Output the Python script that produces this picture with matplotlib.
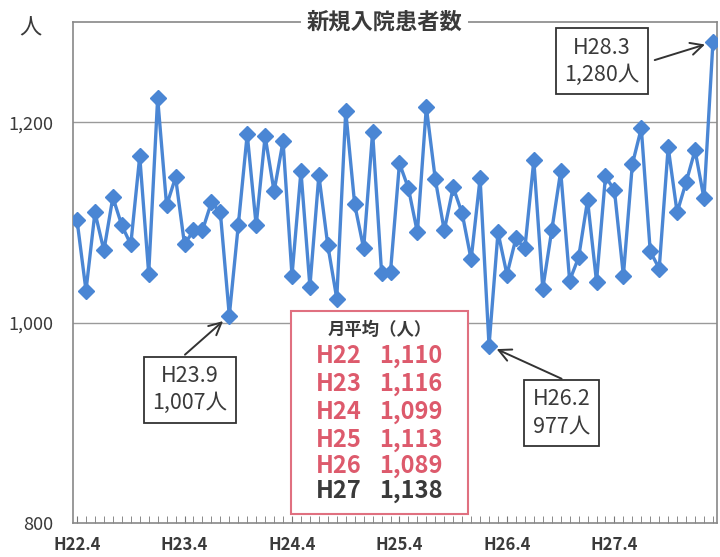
import numpy as np
import matplotlib.pyplot as plt
from matplotlib.patches import Rectangle

plt.rcParams['font.family'] = ['Noto Sans CJK JP', 'DejaVu Sans']

# monthly new inpatients, H22.4 .. H28.3
patients = [1102, 1032, 1110, 1072, 1125, 1097, 1078, 1166, 1049, 1224, 1117, 1145,
            1078, 1092, 1092, 1120, 1110, 1007, 1097, 1188, 1097, 1186, 1131, 1181,
            1047, 1151, 1036, 1147, 1077, 1024, 1211, 1118, 1074, 1190, 1050, 1051,
            1159, 1134, 1090, 1215, 1143, 1092, 1135, 1109, 1063, 1144, 977, 1090,
            1048, 1084, 1074, 1162, 1034, 1092, 1151, 1042, 1065, 1122, 1041, 1146,
            1132, 1047, 1158, 1194, 1071, 1054, 1175, 1110, 1140, 1172, 1124, 1280]
tick_labels = ['H22.4', 'H23.4', 'H24.4', 'H25.4', 'H26.4', 'H27.4']
years = ['H22', 'H23', 'H24', 'H25', 'H26', 'H27']
averages = ['1,110', '1,116', '1,099', '1,113', '1,089', '1,138']

blue = '#4A86D4'
red = '#DD5A6C'
dark = '#3a3a3a'

x = np.arange(len(patients))

fig = plt.figure(figsize=(7.2, 5.57), dpi=100)
ax = fig.add_axes([0.1014, 0.061, 0.8944, 0.8995])

ax.plot(x, patients, color=blue, lw=2.4, marker='D', ms=8, zorder=3)

ax.set_xlim(-0.45, len(patients) - 0.55)
ax.set_ylim(800, 1300)
ax.set_yticks([800, 1000, 1200])
ax.set_yticklabels(['800', '1,000', '1,200'], fontsize=13, color=dark)
ax.set_xticks(x[::12])
ax.set_xticklabels(tick_labels, fontsize=12, fontweight='bold', color=dark)
ax.set_xticks(x, minor=True)
ax.tick_params(axis='x', which='both', direction='in', length=5, color='#777', pad=9)
ax.tick_params(axis='y', length=0, pad=14)
for y in [1000, 1200]:
    ax.axhline(y, color='#9a9a9a', lw=1, zorder=1)
for s in ax.spines.values():
    s.set_color('#888')
    s.set_linewidth(1.2)

ax.text(0.484, 1.0, '新規入院患者数', transform=ax.transAxes, ha='center', va='center',
        fontsize=16, fontweight='bold', color=dark,
        bbox=dict(facecolor='white', edgecolor='none', pad=4))
fig.text(0.042, 0.95, '人', fontsize=16, color=dark, ha='center', va='center')

# callouts
callouts = [
    ('H23.9\n1,007人', (12.6, 933), (12.05, 968), 17),
    ('H26.2\n977人', (54.1, 910), (54.1, 944), 46),
    ('H28.3\n1,280人', (58.6, 1261), (64.5, 1262), 71),
]
for txt, pos, start, idx in callouts:
    ax.text(pos[0], pos[1], txt, ha='center', va='center', fontsize=15.5, color=dark,
            linespacing=1.3,
            bbox=dict(boxstyle='square,pad=0.4', facecolor='white', edgecolor='#333', lw=1.3),
            zorder=4)
    ax.annotate('', xy=(idx, patients[idx]), xytext=start,
                arrowprops=dict(arrowstyle='->', color='#333', lw=1.4, shrinkA=0, shrinkB=6,
                                mutation_scale=22), zorder=4)

# yearly average box
ax.add_patch(Rectangle((23.88, 809), 19.75, 203, facecolor='white', edgecolor='#E07080',
                       lw=1.5, zorder=4))
ax.text(33.8, 993, '月平均（人）', ha='center', va='center', fontsize=12.5,
        fontweight='bold', color=dark, zorder=5)
row_y = [967, 939, 911, 883, 857, 832]
for i, (yr, av) in enumerate(zip(years, averages)):
    c = dark if i == len(years) - 1 else red
    ax.text(26.7, row_y[i], yr, ha='left', va='center', fontsize=17,
            fontweight='bold', color=c, zorder=5)
    ax.text(40.8, row_y[i], av, ha='right', va='center', fontsize=17,
            fontweight='bold', color=c, zorder=5)

fig.savefig('out.png', dpi=100)
